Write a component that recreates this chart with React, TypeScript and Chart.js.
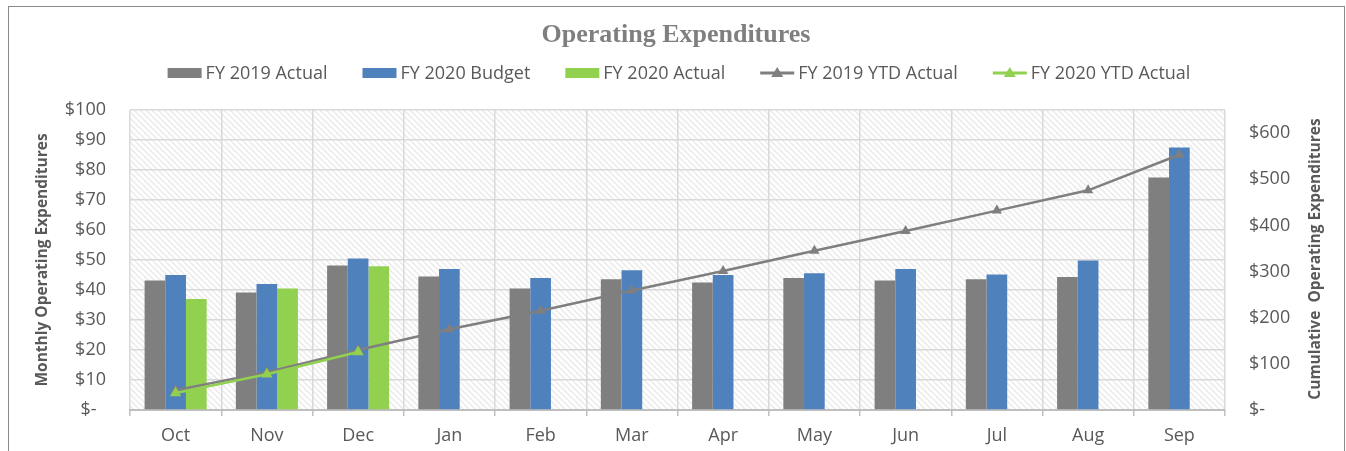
import React, { useEffect, useRef } from "react";
import { Chart, registerables } from "chart.js";

Chart.register(...registerables);

const months = ["Oct", "Nov", "Dec", "Jan", "Feb", "Mar", "Apr", "May", "Jun", "Jul", "Aug", "Sep"];
const fy2019Actual = [43.2, 39.2, 48.2, 44.5, 40.5, 43.6, 42.5, 44.0, 43.2, 43.6, 44.3, 77.5];
const fy2020Budget = [45.0, 42.0, 50.5, 47.0, 44.0, 46.6, 45.0, 45.6, 47.0, 45.2, 49.8, 87.5];
const fy2020Actual = [37.0, 40.5, 47.9, null, null, null, null, null, null, null, null, null];
const fy2019YTD = [43, 82, 130, 175, 215, 259, 301, 345, 388, 432, 476, 553];
const fy2020YTD = [37, 77.5, 125.5, null, null, null, null, null, null, null, null, null];
const leftTicks = { min: 0, max: 100, step: 10 };
const rightTicks = { min: 0, max: 650, step: 100, lastShown: 600 };

const GRAY = "#7f7f7f";
const BLUE = "#4f81bd";
const GREEN = "#92d050";
const TEXT = "#595959";
const FONT = '"Open Sans", sans-serif';

const legendItems = [
  { label: "FY 2019 Actual", color: GRAY, kind: "box" },
  { label: "FY 2020 Budget", color: BLUE, kind: "box" },
  { label: "FY 2020 Actual", color: GREEN, kind: "box" },
  { label: "FY 2019 YTD Actual", color: GRAY, kind: "line" },
  { label: "FY 2020 YTD Actual", color: GREEN, kind: "line" },
];

function makePattern(ctx: CanvasRenderingContext2D) {
  const s = 6;
  const c = document.createElement("canvas");
  c.width = s;
  c.height = s;
  const p = c.getContext("2d")!;
  p.fillStyle = "#ffffff";
  p.fillRect(0, 0, s, s);
  p.strokeStyle = "#ededed";
  p.lineWidth = 1.8;
  for (const k of [-s, 0, s]) {
    p.beginPath();
    p.moveTo(k - 1, -1);
    p.lineTo(k + s + 1, s + 1);
    p.stroke();
  }
  return ctx.createPattern(c, "repeat");
}

const decorPlugin = {
  id: "decor",
  beforeDraw(chart: any) {
    const { ctx, chartArea } = chart;
    ctx.save();
    ctx.fillStyle = "#ffffff";
    ctx.fillRect(0, 0, chart.width, chart.height);
    const pat = makePattern(ctx);
    if (pat) {
      ctx.fillStyle = pat;
      ctx.fillRect(chartArea.left, chartArea.top, chartArea.right - chartArea.left, chartArea.bottom - chartArea.top);
    }
    ctx.restore();
  },
  afterDraw(chart: any) {
    const { ctx, chartArea } = chart;
    ctx.save();
    // frame
    ctx.strokeStyle = "#8a8a8a";
    ctx.lineWidth = 1;
    ctx.strokeRect(8.5, 6.5, 1336, 520);

    // title
    ctx.fillStyle = "#7f7f7f";
    ctx.font = 'bold 26px "Liberation Serif", serif';
    ctx.textAlign = "center";
    ctx.textBaseline = "alphabetic";
    ctx.fillText("Operating Expenditures", 676, 42);

    // legend
    ctx.font = "18px " + FONT;
    const boxW = 34;
    const gapText = 4;
    const gapItem = 35;
    const widths = legendItems.map((it) => boxW + gapText + ctx.measureText(it.label).width);
    const total = widths.reduce((a, b) => a + b, 0) + gapItem * (legendItems.length - 1);
    let x = 679 - total / 2;
    const ly = 73;
    ctx.textAlign = "left";
    ctx.textBaseline = "middle";
    legendItems.forEach((it, i) => {
      if (it.kind === "box") {
        ctx.fillStyle = it.color;
        ctx.fillRect(x, ly - 5, boxW, 10);
      } else {
        ctx.strokeStyle = it.color;
        ctx.lineWidth = 3;
        ctx.beginPath();
        ctx.moveTo(x, ly);
        ctx.lineTo(x + boxW, ly);
        ctx.stroke();
        ctx.fillStyle = it.color;
        const cx = x + boxW / 2;
        ctx.beginPath();
        ctx.moveTo(cx, ly - 6);
        ctx.lineTo(cx + 6, ly + 4);
        ctx.lineTo(cx - 6, ly + 4);
        ctx.closePath();
        ctx.fill();
      }
      ctx.fillStyle = TEXT;
      ctx.fillText(it.label, x + boxW + gapText, ly + 1);
      x += widths[i] + gapItem;
    });

    // axis titles
    ctx.fillStyle = TEXT;
    ctx.font = "bold 15.5px " + FONT;
    ctx.textAlign = "center";
    ctx.textBaseline = "middle";
    const midY = (chartArea.top + chartArea.bottom) / 2;
    ctx.save();
    ctx.translate(43, midY);
    ctx.rotate(-Math.PI / 2);
    ctx.fillText("Monthly Operating Expenditures", 0, 0);
    ctx.restore();
    ctx.save();
    ctx.translate(1316, midY - 1);
    ctx.rotate(-Math.PI / 2);
    ctx.fillText("Cumulative  Operating Expenditures", 0, 0);
    ctx.restore();
    ctx.restore();
  },
};

export default function App() {
  const ref = useRef<HTMLCanvasElement | null>(null);
  useEffect(() => {
    if (!ref.current) return;
    const chart = new Chart(ref.current, {
      type: "bar",
      data: {
        labels: months,
        datasets: [
          {
            type: "line",
            label: "FY 2020 YTD Actual",
            data: fy2020YTD,
            yAxisID: "y1",
            borderColor: GREEN,
            backgroundColor: GREEN,
            borderWidth: 2.5,
            pointStyle: "triangle",
            pointRadius: 6.5,
            pointBorderWidth: 0,
            pointBackgroundColor: GREEN,
            order: 0,
          } as any,
          {
            type: "line",
            label: "FY 2019 YTD Actual",
            data: fy2019YTD,
            yAxisID: "y1",
            borderColor: GRAY,
            backgroundColor: GRAY,
            borderWidth: 2.5,
            pointStyle: "triangle",
            pointRadius: 6,
            pointBorderWidth: 0,
            pointBackgroundColor: GRAY,
            order: 1,
          } as any,
          { label: "FY 2019 Actual", data: fy2019Actual, backgroundColor: GRAY, yAxisID: "y", order: 2 },
          { label: "FY 2020 Budget", data: fy2020Budget, backgroundColor: BLUE, yAxisID: "y", order: 2 },
          { label: "FY 2020 Actual", data: fy2020Actual, backgroundColor: GREEN, yAxisID: "y", order: 2 },
        ],
      },
      options: {
        animation: false,
        responsive: false,
        devicePixelRatio: 1,
        layout: { padding: { top: 110, left: 0, right: 0, bottom: 0 } },
        datasets: { bar: { categoryPercentage: 0.68, barPercentage: 1 } },
        plugins: { legend: { display: false }, title: { display: false }, tooltip: { enabled: false } },
        scales: {
          x: {
            offset: true,
            grid: { offset: true, color: "#d9d9d9", lineWidth: 1.5, drawTicks: true, tickLength: 6, tickColor: "#bfbfbf" },
            border: { display: true, color: "#bfbfbf", width: 2 },
            ticks: { color: TEXT, font: { family: FONT, size: 18 }, padding: 9 },
            afterFit: (s: any) => { s.height = 41; },
          },
          y: {
            position: "left",
            min: leftTicks.min,
            max: leftTicks.max,
            grid: { color: "#d9d9d9", lineWidth: 1.5, drawTicks: false },
            border: { display: false },
            ticks: {
              stepSize: leftTicks.step,
              color: TEXT,
              font: { family: FONT, size: 18 },
              padding: 24,
              callback: (v: any) => (v === 0 ? "$-  " : "$" + v),
            },
            afterFit: (s: any) => { s.width = 130; },
          },
          y1: {
            position: "right",
            min: rightTicks.min,
            max: rightTicks.max,
            grid: { display: false, drawTicks: false },
            border: { display: false },
            ticks: {
              stepSize: rightTicks.step,
              color: TEXT,
              font: { family: FONT, size: 18 },
              padding: 24,
              callback: (v: any) => (v === 0 ? "$-" : "$" + v),
            },
            afterBuildTicks: (s: any) => { s.ticks = s.ticks.filter((t: any) => t.value <= rightTicks.lastShown); },
            afterFit: (s: any) => { s.width = 121; },
          },
        },
      },
      plugins: [decorPlugin],
    });
    return () => chart.destroy();
  }, []);
  return (
    <div style={{ position: "fixed", left: 0, top: 0, width: 1346, height: 451, background: "#fff" }}>
      <canvas ref={ref} width={1346} height={451} style={{ width: 1346, height: 451, display: "block" }} />
    </div>
  );
}
